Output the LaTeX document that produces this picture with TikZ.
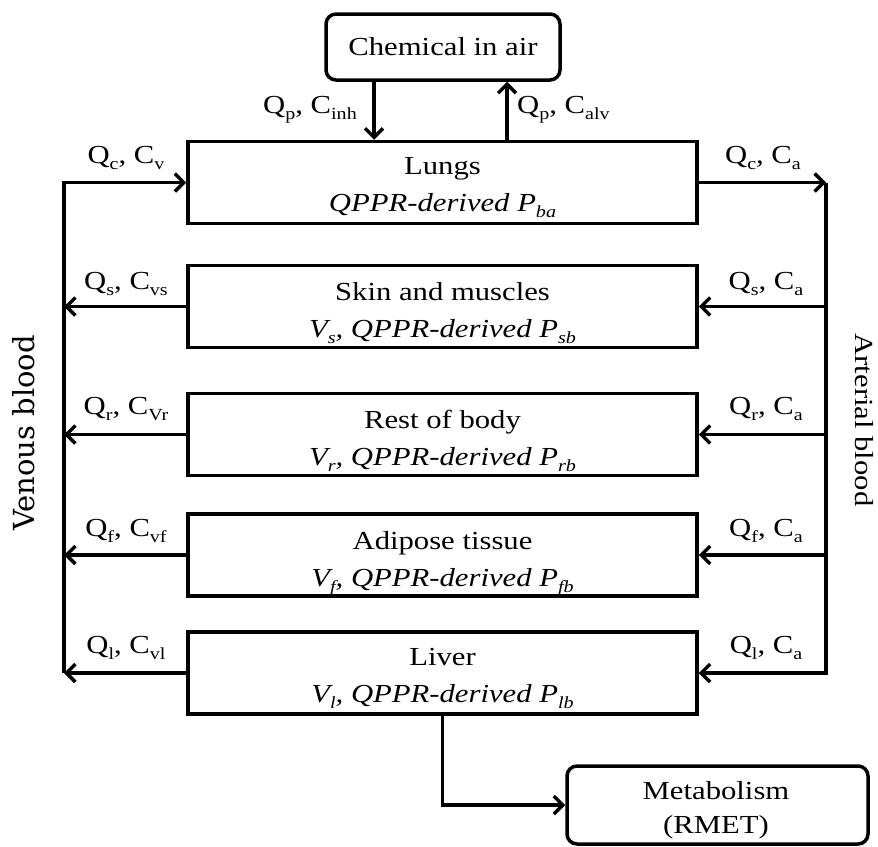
\documentclass[tikz,border=0pt]{standalone}
\usepackage{fontspec}
\setmainfont{Liberation Serif}[FakeStretch=1.18]
\newfontfamily\sidefont{DejaVu Serif}
\newcommand\lo[1]{\raisebox{-6pt}{\fontsize{17}{17}\selectfont #1}}
\usetikzlibrary{arrows.meta,calc}
\begin{document}
\begin{tikzpicture}[x=1pt,y=-1pt,
  box/.style={draw,line width=3.5pt,minimum width=509pt,minimum height=82pt,inner sep=0pt},
  rbox/.style={draw,line width=3.5pt,rounded corners=10pt,inner sep=0pt},
  txt/.style={font=\fontsize{26}{30}\selectfont,inner sep=0pt},
  lab/.style={font=\fontsize{26}{30}\selectfont,inner sep=0pt},
  conn/.style={line width=3.5pt},
  arr/.style={conn,-{Straight Barb[length=9pt,width=18pt]}},
]
\useasboundingbox (0,0) rectangle (878,846);

% boxes
\node[rbox,minimum width=234pt,minimum height=66pt,txt] (chem) at (443,47) {Chemical in air};
\node[box] (lungs) at (442.5,182.5) {};
\node[box] (skin) at (442.5,306.5) {};
\node[box] (rest) at (442.5,434.5) {};
\node[box] (adip) at (442.5,555) {};
\node[box] (liver) at (442.5,673) {};
\node[rbox,minimum width=301pt,minimum height=78pt] (metab) at (717.5,805) {};

% box texts
\node[txt,anchor=base] (lungsA) at ([yshift=-35pt]lungs.north) {Lungs};
\node[txt,anchor=base] (lungsB) at ([yshift=-72pt]lungs.north) {\itshape QPPR-derived P\lo{ba}};
\node[txt,anchor=base] (skinA) at ([yshift=-37pt]skin.north) {Skin and muscles};
\node[txt,anchor=base] (skinB) at ([yshift=-74pt]skin.north) {\itshape V\lo{s}, QPPR-derived P\lo{sb}};
\node[txt,anchor=base] (restA) at ([yshift=-37pt]rest.north) {Rest of body};
\node[txt,anchor=base] (restB) at ([yshift=-74pt]rest.north) {\itshape V\lo{r}, QPPR-derived P\lo{rb}};
\node[txt,anchor=base] (adipA) at ([yshift=-37pt]adip.north) {Adipose tissue};
\node[txt,anchor=base] (adipB) at ([yshift=-74pt]adip.north) {\itshape V\lo{f}, QPPR-derived P\lo{fb}};
\node[txt,anchor=base] (liverA) at ([yshift=-35pt]liver.north) {Liver};
\node[txt,anchor=base] (liverB) at ([yshift=-72pt]liver.north) {\itshape V\lo{l}, QPPR-derived P\lo{lb}};
\node[txt,anchor=base] (metabA) at (716,799) {Metabolism};
\node[txt,anchor=base] (metabB) at (716,833) {(RMET)};

% side lines
\coordinate (vx) at (64,0);
\coordinate (ax) at (826,0);

% chemical <-> lungs
\draw[arr] ([xshift=-69pt]chem.south) -- ([xshift=-69pt]chem.south |- lungs.north);
\draw[arr] ([xshift=64pt]chem.south |- lungs.north) -- ([xshift=64pt]chem.south);
\node[lab,anchor=base east] (inhl) at (357,113) {Q\lo{p}, C\lo{inh}};
\node[lab,anchor=base west] (alvl) at (517,113) {Q\lo{p}, C\lo{alv}};

% venous side
\draw[arr] (liver.west -| vx) -- (lungs.west -| vx) -- (lungs.west);
\draw[arr] (skin.west) -- (skin.west -| vx);
\draw[arr] (rest.west) -- (rest.west -| vx);
\draw[arr] (adip.west) -- (adip.west -| vx);
\draw[arr] (liver.west) -- (liver.west -| vx);

% arterial side
\draw[arr] (lungs.east) -- (lungs.east -| ax);
\draw[arr] (lungs.east -| ax) -- (liver.east -| ax) -- (liver.east);
\draw[arr] (skin.east -| ax) -- (skin.east);
\draw[arr] (rest.east -| ax) -- (rest.east);
\draw[arr] (adip.east -| ax) -- (adip.east);

% liver -> metabolism
\draw[arr] (liver.south) |- (metab.west);

% flow labels left
\node[lab,anchor=base] (l1) at (126,163) {Q\lo{c}, C\lo{v}};
\node[lab,anchor=base] (l2) at (126,289) {Q\lo{s}, C\lo{vs}};
\node[lab,anchor=base] (l3) at (126,414) {Q\lo{r}, C\lo{Vr}};
\node[lab,anchor=base] (l4) at (126,536) {Q\lo{f}, C\lo{vf}};
\node[lab,anchor=base] (l5) at (126,653) {Q\lo{l}, C\lo{vl}};
% flow labels right
\node[lab,anchor=base] (r1) at (763,163) {Q\lo{c}, C\lo{a}};
\node[lab,anchor=base] (r2) at (766,289) {Q\lo{s}, C\lo{a}};
\node[lab,anchor=base] (r3) at (766,414) {Q\lo{r}, C\lo{a}};
\node[lab,anchor=base] (r4) at (766,536) {Q\lo{f}, C\lo{a}};
\node[lab,anchor=base] (r5) at (766,653) {Q\lo{l}, C\lo{a}};

% side titles
\node[rotate=90,inner sep=0pt,font=\sidefont\fontsize{29}{30}\selectfont] (ven) at (24,433) {Venous blood};
\node[rotate=-90,inner sep=0pt,font=\fontsize{26}{30}\selectfont] (art) at (864,420) {Arterial blood};
\end{tikzpicture}
\end{document}
